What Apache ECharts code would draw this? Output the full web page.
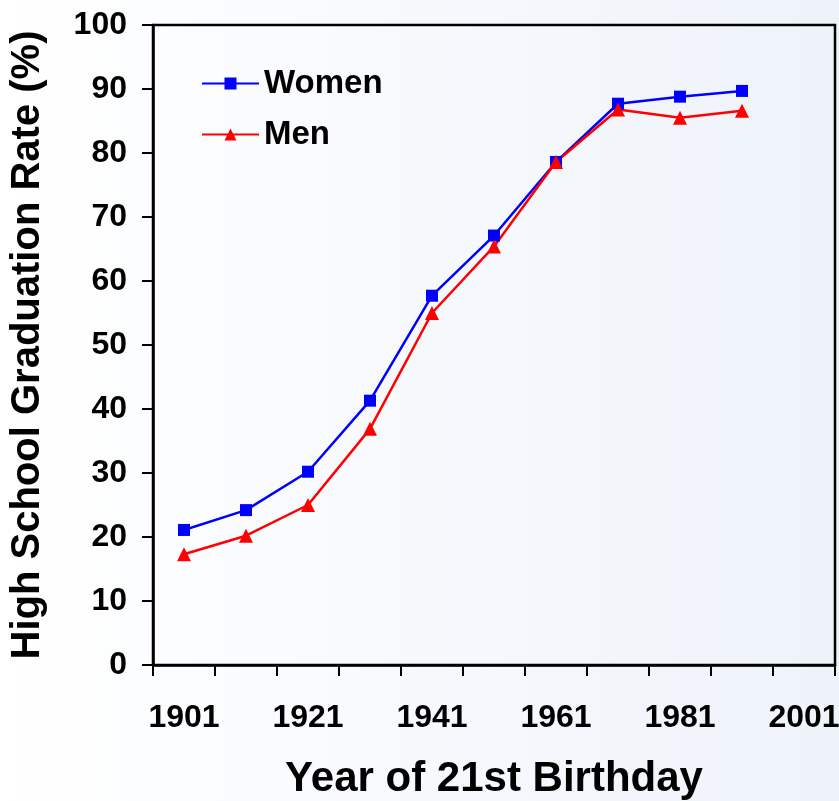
<!DOCTYPE html>
<html>
<head>
<meta charset="utf-8">
<script src="https://cdn.jsdelivr.net/npm/echarts@6/dist/echarts.min.js"></script>
<style>
html,body{margin:0;padding:0;background:#fff;}
#chart{width:839px;height:801px;}
</style>
</head>
<body>
<div id="chart"></div>
<script>
const categories = ['1901','1911','1921','1931','1941','1951','1961','1971','1981','1991','2001'];
const women = [21.1, 24.2, 30.2, 41.3, 57.7, 67.1, 78.6, 87.7, 88.8, 89.7];
const men = [17.3, 20.2, 25.0, 36.9, 55.0, 65.4, 78.6, 86.8, 85.5, 86.6];
const yMin = 0, yMax = 100, yStep = 10;

const font = '"Liberation Sans", Arial, sans-serif';
const chart = echarts.init(document.getElementById('chart'));
chart.setOption({
  animation: false,
  backgroundColor: {
    type: 'linear', x: 0, y: 0, x2: 1, y2: 0,
    colorStops: [{offset: 0, color: '#ffffff'}, {offset: 1, color: '#eef3fa'}]
  },
  grid: {
    left: 153, right: 4, top: 25, bottom: 136,
    containLabel: false,
    outerBoundsMode: 'none',
    show: true, borderColor: '#000', borderWidth: 2.5,
    backgroundColor: 'transparent'
  },
  legend: {
    orient: 'vertical',
    left: 196, top: 62,
    itemWidth: 57, itemHeight: 15,
    itemGap: 18,
    textStyle: {fontFamily: font, fontWeight: 'bold', fontSize: 33, color: '#000', lineHeight: 32},
    data: ['Women', 'Men']
  },
  xAxis: {
    type: 'category',
    data: categories,
    boundaryGap: true,
    name: 'Year of 21st Birthday',
    nameLocation: 'middle',
    nameGap: 93,
    nameTextStyle: {fontFamily: font, fontWeight: 'bold', fontSize: 42, color: '#000'},
    axisLine: {lineStyle: {color: '#000', width: 2.5}},
    axisTick: {show: true, interval: 0, length: 11, inside: false, lineStyle: {color: '#000', width: 2}},
    axisLabel: {interval: 1, margin: 37, fontFamily: font, fontWeight: 'bold', fontSize: 32, color: '#000'},
    splitLine: {show: false}
  },
  yAxis: {
    type: 'value',
    min: yMin, max: yMax, interval: yStep,
    name: 'High School Graduation Rate (%)',
    nameLocation: 'middle',
    nameGap: 105,
    nameRotate: 90,
    nameTextStyle: {fontFamily: font, fontWeight: 'bold', fontSize: 40, color: '#000'},
    axisLine: {show: true, lineStyle: {color: '#000', width: 2.5}},
    axisTick: {show: true, length: 11, lineStyle: {color: '#000', width: 2}},
    axisLabel: {margin: 26, fontFamily: font, fontWeight: 'bold', fontSize: 32, color: '#000'},
    splitLine: {show: false}
  },
  series: [
    {
      name: 'Women', type: 'line', data: women,
      symbol: 'rect', symbolSize: 12,
      color: '#0000ff',
      lineStyle: {color: '#0000ff', width: 2.5},
      itemStyle: {color: '#0000ff'}
    },
    {
      name: 'Men', type: 'line', data: men,
      symbol: 'triangle', symbolSize: 14,
      color: '#ff0000',
      lineStyle: {color: '#ff0000', width: 2.5},
      itemStyle: {color: '#ff0000'}
    }
  ]
});
</script>
</body>
</html>
